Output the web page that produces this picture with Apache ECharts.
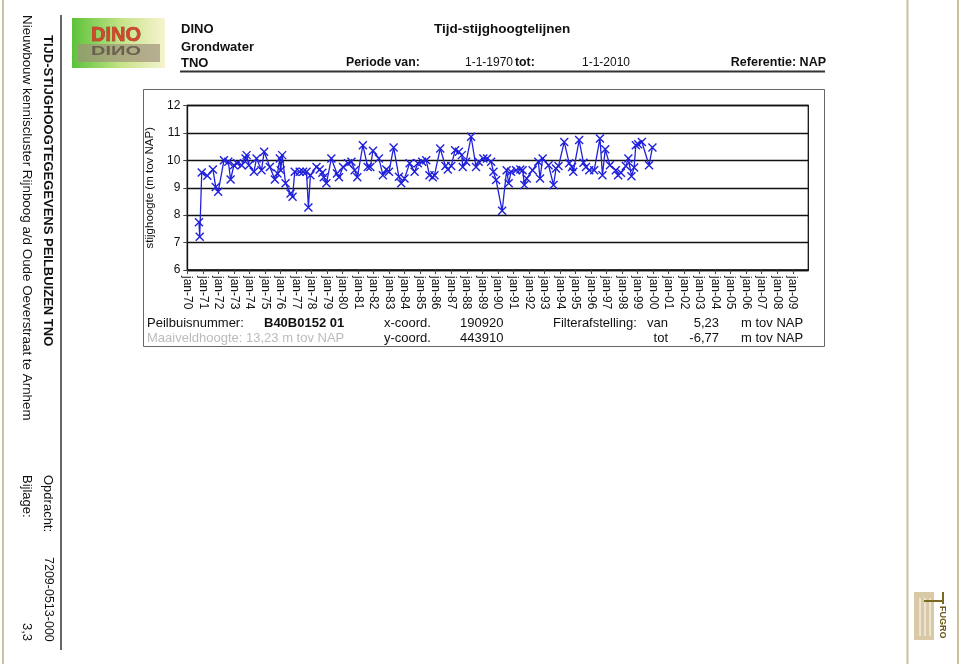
<!DOCTYPE html>
<html><head><meta charset="utf-8">
<script src="https://cdn.jsdelivr.net/npm/echarts@6/dist/echarts.min.js"></script>
<style>html,body{margin:0;padding:0;background:#fff}#c{width:960px;height:664px}</style>
</head><body><div id="c"></div>
<script>
// measurement dates (decimal years) and heads (m tov NAP)
const dates = [
1970.75,1970.80,1970.93,1971.29,1971.65,1971.83,1971.99,1972.36,1972.64,1972.79,
1973.00,1973.21,1973.50,1973.75,1973.82,1973.97,1974.29,1974.46,1974.78,1974.95,
1975.32,1975.64,1975.81,1975.96,1976.02,1976.11,1976.33,1976.65,1976.78,1976.92,
1977.24,1977.46,1977.68,1977.80,1977.93,1978.32,1978.53,1978.70,1978.79,1978.96,
1979.28,1979.64,1979.77,1980.03,1980.35,1980.57,1980.78,1980.95,1981.31,1981.62,
1981.79,1981.96,1982.34,1982.60,1982.82,1982.99,1983.29,1983.63,1983.78,1983.99,
1984.32,1984.64,1984.85,1985.13,1985.39,1985.60,1985.81,1985.92,1986.29,1986.63,
1986.78,1987.00,1987.25,1987.49,1987.68,1987.74,1987.96,1988.28,1988.60,1988.77,
1989.07,1989.31,1989.57,1989.72,1989.89,1990.28,1990.57,1990.70,1990.85,1991.18,
1991.45,1991.60,1991.71,1991.86,1992.24,1992.61,1992.72,1992.89,1993.27,1993.59,
1993.75,1993.91,1994.28,1994.60,1994.78,1994.86,1995.24,1995.52,1995.68,1995.89,
1996.21,1996.58,1996.74,1996.92,1997.22,1997.60,1997.75,1997.93,1998.25,1998.41,
1998.61,1998.78,1998.89,1999.04,1999.28,1999.74,1999.96
];
const levels = [
7.74,7.21,9.56,9.44,9.67,9.03,8.85,10.00,9.95,9.30,
9.82,9.89,9.82,10.07,10.19,9.82,9.58,10.07,9.64,10.31,
9.76,9.30,9.52,10.07,9.64,10.19,9.16,8.79,8.67,9.58,
9.58,9.58,9.58,8.28,9.46,9.76,9.67,9.55,9.38,9.16,
10.07,9.52,9.38,9.76,9.89,9.95,9.64,9.38,10.55,9.76,
9.76,10.35,10.07,9.46,9.67,9.58,10.47,9.40,9.16,9.34,
9.89,9.58,9.89,9.95,10.00,9.46,9.38,9.46,10.43,9.79,
9.67,9.79,10.37,10.31,10.19,9.76,9.95,10.86,9.76,9.95,
10.07,10.07,9.95,9.58,9.28,8.16,9.64,9.16,9.58,9.64,
9.67,9.64,9.10,9.34,9.64,9.95,9.34,10.07,9.82,9.10,
9.70,9.79,10.67,9.89,9.76,9.58,10.74,9.91,9.76,9.64,
9.64,10.80,9.46,10.40,9.82,9.64,9.46,9.55,9.79,10.07,
9.42,9.74,10.55,10.59,10.67,9.82,10.47
];
const xRange = [1970, 2010];
const yRange = [6, 12];
const yAxisTitle = 'stijghoogte (m tov NAP)';
const labelPrefix = 'jan-';

const F = "'Liberation Sans', Arial, Helvetica, sans-serif";
const BLUE = '#2020dc';
const TAN = '#cdbf9f';

function txt(x, y, s, o) {
  o = o || {};
  return { type: 'text', x: x, y: y, rotation: o.rot || 0, silent: true,
    style: { text: s, fill: o.fill || '#111', font: (o.bold ? 'bold ' : '') + (o.size || 13) + 'px ' + F,
      textAlign: o.align || 'left', textVerticalAlign: o.va || 'middle' } };
}
const R = -Math.PI / 2;

const graphics = [
  // page frame lines
  { type: 'line', shape: { x1: 3, y1: 0, x2: 3, y2: 664 }, style: { stroke: TAN, lineWidth: 2 } },
  { type: 'line', shape: { x1: 907.5, y1: 0, x2: 907.5, y2: 664 }, style: { stroke: TAN, lineWidth: 2 } },
  { type: 'line', shape: { x1: 958, y1: 0, x2: 958, y2: 664 }, style: { stroke: TAN, lineWidth: 2 } },
  { type: 'line', shape: { x1: 61, y1: 15, x2: 61, y2: 650 }, style: { stroke: '#333', lineWidth: 1.5 } },
  // vertical texts
  txt(48, 35, 'TIJD-STIJGHOOGTEGEGEVENS PEILBUIZEN TNO', { rot: R, bold: true, size: 13 }),
  txt(27, 15, 'Nieuwbouw kenniscluster Rijnboog a/d Oude Oeverstraat te Arnhem', { rot: R, size: 13.4 }),
  txt(48, 475, 'Opdracht:', { rot: R, size: 13 }),
  txt(48, 557, '7209-0513-000', { rot: R, size: 12.5 }),
  txt(27, 475, 'Bijlage:', { rot: R, size: 13 }),
  txt(27, 623, '3,3', { rot: R, size: 13 }),
  // DINO logo
  { type: 'rect', shape: { x: 72, y: 18, width: 93, height: 50 },
    style: { fill: new echarts.graphic.LinearGradient(0, 0, 1, 0, [{ offset: 0, color: '#5cc23a' }, { offset: 0.55, color: '#c8e48a' }, { offset: 1, color: '#f7f3d0' }]) } },
  { type: 'rect', shape: { x: 78, y: 44, width: 82, height: 18 }, style: { fill: '#a0927a', opacity: 0.7 } },
  { type: 'text', x: 116, y: 35, silent: true, style: { text: 'DINO', fill: '#d8452a', stroke: '#5a3020', lineWidth: 0.6, font: 'bold 20px ' + F, textAlign: 'center', textVerticalAlign: 'middle' } },
  { type: 'text', x: 116, y: 49, scaleY: -0.6, silent: true, style: { text: 'DINO', fill: '#6a6050', font: 'bold 20px ' + F, textAlign: 'center', textVerticalAlign: 'middle' } },
  // header
  txt(181, 29, 'DINO', { bold: true }),
  txt(181, 47, 'Grondwater', { bold: true }),
  txt(181, 63, 'TNO', { bold: true }),
  txt(434, 29, 'Tijd-stijghoogtelijnen', { bold: true, size: 13.5 }),
  txt(346, 63, 'Periode van:', { bold: true, size: 12.3 }),
  txt(465, 63, '1-1-1970', { size: 12 }),
  txt(515, 63, 'tot:', { bold: true, size: 12.3 }),
  txt(582, 63, '1-1-2010', { size: 12 }),
  txt(826, 63, 'Referentie: NAP', { bold: true, align: 'right', size: 12.5 }),
  { type: 'line', shape: { x1: 180, y1: 71.5, x2: 825, y2: 71.5 }, style: { stroke: '#333', lineWidth: 2 } },
  // chart box
  { type: 'rect', shape: { x: 143.5, y: 89.5, width: 681, height: 257 }, style: { fill: 'none', stroke: '#666', lineWidth: 1 } },
  // footer rows
  txt(147, 323, 'Peilbuisnummer:'),
  txt(264, 323, 'B40B0152 01', { bold: true }),
  txt(384, 323, 'x-coord.'),
  txt(460, 323, '190920'),
  txt(553, 323, 'Filterafstelling:'),
  txt(668, 323, 'van', { align: 'right' }),
  txt(719, 323, '5,23', { align: 'right' }),
  txt(741, 323, 'm tov NAP'),
  txt(147, 338, 'Maaiveldhoogte: 13,23 m tov NAP', { fill: '#bbbbbb' }),
  txt(384, 338, 'y-coord.'),
  txt(460, 338, '443910'),
  txt(668, 338, 'tot', { align: 'right' }),
  txt(719, 338, '-6,77', { align: 'right' }),
  txt(741, 338, 'm tov NAP'),
  // Fugro logo
  { type: 'rect', shape: { x: 914, y: 592, width: 20, height: 48 }, style: { fill: '#d9c9a6' } },
  { type: 'line', shape: { x1: 920, y1: 598, x2: 920, y2: 636 }, style: { stroke: '#fff', lineWidth: 1 } },
  { type: 'line', shape: { x1: 925, y1: 598, x2: 925, y2: 636 }, style: { stroke: '#fff', lineWidth: 1 } },
  { type: 'line', shape: { x1: 930, y1: 598, x2: 930, y2: 636 }, style: { stroke: '#fff', lineWidth: 1 } },
  { type: 'line', shape: { x1: 924, y1: 601, x2: 944, y2: 601 }, style: { stroke: '#7a6a20', lineWidth: 2 } },
  { type: 'line', shape: { x1: 943, y1: 592, x2: 943, y2: 604 }, style: { stroke: '#7a6a20', lineWidth: 2 } },
  txt(942, 606, 'FUGRO', { rot: R, bold: true, size: 9, fill: '#6b5a1a' })
];

const option = {
  animation: false,
  backgroundColor: '#fff',
  graphic: graphics,
  grid: { left: 187.3, right: 960 - 808.3, top: 105.5, bottom: 664 - 270, show: true, borderColor: '#111', borderWidth: 1.3, backgroundColor: 'transparent' },
  xAxis: {
    type: 'value', min: xRange[0], max: xRange[1], interval: 1,
    axisLine: { lineStyle: { color: '#111', width: 1.3 } },
    axisTick: { show: true, length: 4, lineStyle: { color: '#444' } },
    splitLine: { show: false },
    axisLabel: { rotate: -90, margin: 6, color: '#111', fontSize: 12, fontFamily: F, showMaxLabel: false,
      formatter: v => v >= xRange[1] ? '' : labelPrefix + String(v).slice(2) }
  },
  yAxis: {
    type: 'value', min: yRange[0], max: yRange[1], interval: 1,
    name: yAxisTitle, nameLocation: 'middle', nameRotate: 90, nameGap: 30,
    nameTextStyle: { color: '#111', fontSize: 11.5, fontFamily: F },
    axisLine: { show: true, lineStyle: { color: '#111', width: 1.3 } },
    axisTick: { show: true, length: 4, lineStyle: { color: '#444' } },
    splitLine: { show: true, lineStyle: { color: '#111', width: 1.3 } },
    axisLabel: { margin: 7, color: '#111', fontSize: 12, fontFamily: F }
  },
  series: [{
    type: 'line',
    data: dates.map((d, i) => [d, levels[i]]),
    symbol: 'path://M0,0L10,10M10,0L0,10', symbolSize: 8,
    showAllSymbol: true,
    lineStyle: { color: BLUE, width: 1.3 },
    itemStyle: { color: BLUE, borderColor: BLUE, borderWidth: 1.4 }
  }]
};
const chart = echarts.init(document.getElementById('c'), null, { renderer: 'canvas' });
chart.setOption(option);
</script>
</body></html>
